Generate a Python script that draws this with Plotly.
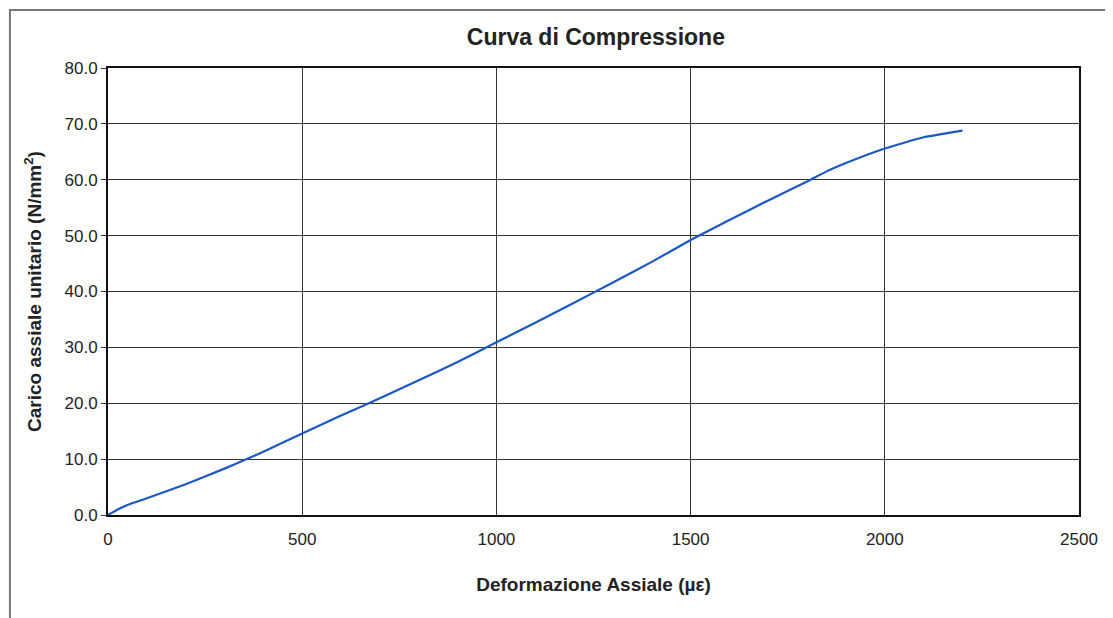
import plotly.graph_objects as go

# Data
deformazione = [0, 25, 50, 100, 200, 300, 350, 400, 500, 600, 700, 800, 900, 1000,
                1100, 1200, 1300, 1400, 1500, 1600, 1700, 1800, 1850, 1900, 2000, 2100, 2200]
carico = [0.0, 1.0, 1.8, 3.0, 5.5, 8.3, 9.8, 11.3, 14.6, 17.8, 20.9, 24.1, 27.4, 30.9,
          34.4, 38.0, 41.6, 45.3, 49.2, 52.8, 56.3, 59.7, 61.5, 63.0, 65.6, 67.6, 68.8]
x_ticks = [0, 500, 1000, 1500, 2000, 2500]
y_ticks = [0, 10, 20, 30, 40, 50, 60, 70, 80]

FONT = "Liberation Sans, Arial, sans-serif"

fig = go.Figure()
fig.add_trace(go.Scatter(
    x=deformazione, y=carico, mode="lines",
    line=dict(color="#1a58c4", width=2.2, shape="spline", smoothing=0.4),
    showlegend=False, hoverinfo="skip",
))

fig.update_layout(
    width=1105, height=610,
    paper_bgcolor="white", plot_bgcolor="white",
    margin=dict(l=100, r=34, t=60, b=103),
    title=dict(text="<b>Curva di Compressione</b>", x=0.532, xanchor="center",
               y=0.952, yanchor="middle",
               font=dict(family=FONT, size=23, color="#222222")),
    font=dict(family=FONT, size=17, color="#222222"),
)

fig.update_xaxes(
    range=[0, 2500], tickvals=x_ticks, ticktext=[str(v) for v in x_ticks],
    showgrid=True, gridcolor="#333333", gridwidth=1,
    showline=True, linecolor="#111111", linewidth=2, mirror=True,
    ticks="", zeroline=False, ticklabelstandoff=8,
    tickfont=dict(family=FONT, size=17, color="#222222"),
    title=dict(text="<b>Deformazione Assiale (µε)</b>", standoff=29,
               font=dict(family=FONT, size=19, color="#222222")),
)
fig.update_yaxes(
    range=[0, 80], tickvals=y_ticks, tickformat=".1f",
    showgrid=True, gridcolor="#333333", gridwidth=1,
    showline=True, linecolor="#111111", linewidth=2, mirror=True,
    ticks="outside", ticklen=5, tickcolor="#333333", zeroline=False,
    tickfont=dict(family=FONT, size=17, color="#222222"),
    title=dict(text="<b>Carico assiale unitario (N/mm<sup>2</sup>)</b>", standoff=18,
               font=dict(family=FONT, size=19, color="#222222")),
)

# outer frame of the picture
fig.add_shape(type="rect", xref="paper", yref="paper",
              x0=-0.101, x1=1.031, y0=-0.3, y1=1.13,
              line=dict(color="#777777", width=2), fillcolor="rgba(0,0,0,0)", layer="below")

fig.write_html("out.html")
